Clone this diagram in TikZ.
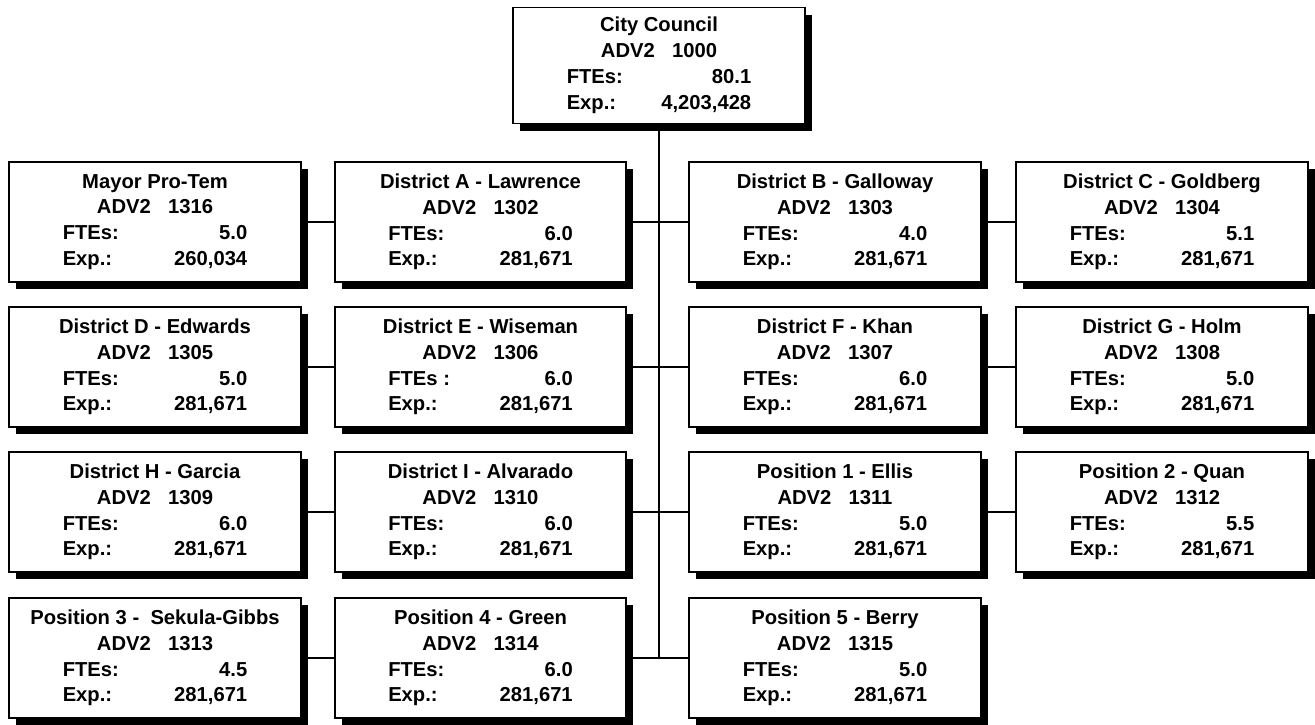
\documentclass[tikz,border=0pt]{standalone}
\usepackage{fontspec}
\setmainfont{Liberation Sans}
\usepackage{tikz}
\usetikzlibrary{
	shadows,
	positioning
}

% one office: title, code, FTEs and expense lines
\newcommand{\office}[5][FTEs:]{#2\\ADV2\hspace{0.85em}#3\\
	\makebox[105pt]{#1\hfill #4}\\\makebox[105pt]{Exp.:\hfill #5}}

\begin{document}
\begin{tikzpicture}[x=0.02cm, y=0.02cm,
		orgbox/.style={draw, line width=1pt, fill=white, inner sep=0pt,
			minimum width=166pt, minimum height=68pt, align=center,
			font=\bfseries\fontsize{11.5}{14.7}\selectfont,
			drop shadow={shadow xshift=4pt, shadow yshift=-4pt, fill=black, opacity=1}},
		link/.style={line width=1pt}]
		\useasboundingbox (0,0) rectangle (1315,724);
		% head office
		\node[orgbox, minimum height=66pt] (council) at (659,658.5) {\office{City Council}{1000}{80.1}{4,203,428}};
		% row 1
		\node[orgbox] (mayor) at (155,502) {\office{Mayor Pro-Tem}{1316}{5.0}{260,034}};
		\node[orgbox] (distA) at (480.5,502) {\office{District A - Lawrence}{1302}{6.0}{281,671}};
		\node[orgbox] (distB) at (835,502) {\office{District B - Galloway}{1303}{4.0}{281,671}};
		\node[orgbox] (distC) at (1162,502) {\office{District C - Goldberg}{1304}{5.1}{281,671}};
		% row 2
		\node[orgbox] (distD) at (155,357) {\office{District D - Edwards}{1305}{5.0}{281,671}};
		\node[orgbox] (distE) at (480.5,357) {\office[FTEs :]{District E - Wiseman}{1306}{6.0}{281,671}};
		\node[orgbox] (distF) at (835,357) {\office{District F - Khan}{1307}{6.0}{281,671}};
		\node[orgbox] (distG) at (1162,357) {\office{District G - Holm}{1308}{5.0}{281,671}};
		% row 3
		\node[orgbox] (distH) at (155,212) {\office{District H - Garcia}{1309}{6.0}{281,671}};
		\node[orgbox] (distI) at (480.5,212) {\office{District I - Alvarado}{1310}{6.0}{281,671}};
		\node[orgbox] (pos1) at (835,212) {\office{Position 1 - Ellis}{1311}{5.0}{281,671}};
		\node[orgbox] (pos2) at (1162,212) {\office{Position 2 - Quan}{1312}{5.5}{281,671}};
		% row 4
		\node[orgbox] (pos3) at (155,66) {\office{Position 3 -\ \ Sekula-Gibbs}{1313}{4.5}{281,671}};
		\node[orgbox] (pos4) at (480.5,66) {\office{Position 4 - Green}{1314}{6.0}{281,671}};
		\node[orgbox] (pos5) at (835,66) {\office{Position 5 - Berry}{1315}{5.0}{281,671}};
		% connectors
		\coordinate (trunkEnd) at (council.south |- pos4.east);
		\draw[link] (council.south) -- (trunkEnd);
		\draw[link] (mayor.east) -- (distA.west);
		\draw[link] (distA.east) -- (distB.west);
		\draw[link] (distB.east) -- (distC.west);
		\draw[link] (distD.east) -- (distE.west);
		\draw[link] (distE.east) -- (distF.west);
		\draw[link] (distF.east) -- (distG.west);
		\draw[link] (distH.east) -- (distI.west);
		\draw[link] (distI.east) -- (pos1.west);
		\draw[link] (pos1.east) -- (pos2.west);
		\draw[link] (pos3.east) -- (pos4.west);
		\draw[link] (pos4.east) -- (pos5.west);
	\end{tikzpicture}
\end{document}
